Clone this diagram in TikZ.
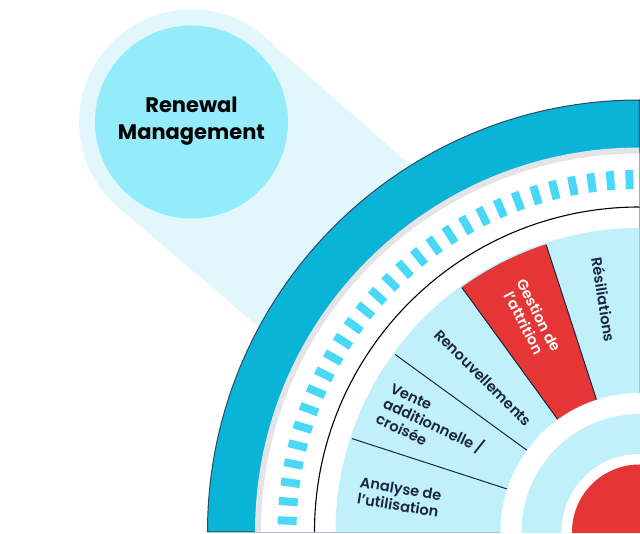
\documentclass[tikz,border=0pt]{standalone}
\usepackage{fontspec}
\setmainfont{Poppins}
\newfontfamily\mediumfont{Poppins SemiBold}
\definecolor{bandteal}{HTML}{0AB4D6}
\definecolor{beamblue}{HTML}{E2F7FC}
\definecolor{bubbleblue}{HTML}{94ECFB}
\definecolor{sectorblue}{HTML}{C0F1FA}
\definecolor{tickblue}{HTML}{4AD8F8}
\definecolor{alertred}{HTML}{E63535}
\definecolor{ringgrey}{HTML}{E4E4E8}
\definecolor{inkblue}{HTML}{1B2440}
\definecolor{edgeblue}{HTML}{2B4A66}
\begin{document}
\begin{tikzpicture}[x = 1pt, y = 1pt,
  disc/.style = {circle, minimum size = #1, inner sep = 0pt},
  sepline/.style = {draw = inkblue, line width = 1pt},
  tickmark/.style = {draw = tickblue, line width = 8pt},
  sectorlabel/.style = {text = inkblue, font = \mediumfont\fontsize{14.6}{17}\selectfont, align = left, inner sep = 0pt}]
\useasboundingbox (-639.5,-1) rectangle (0.5,532);
\clip (-639.5,-1) rectangle (0.5,532);

% bubble and beam
\coordinate (hub) at (0,0);
\coordinate (bubblecentre) at (-448,410);
\fill[beamblue] (-373,493) -- (-190,333) -- (-340,170) -- (-524,327) -- cycle;
\node[disc = 225pt, fill = beamblue] (halo) at (bubblecentre) {};
\node[disc = 193pt, fill = bubbleblue] (bubble) at (bubblecentre) {};
\node[text = black, font = \bfseries\fontsize{21}{27}\selectfont, align = center, inner sep = 0pt] (title) at (-448,411) {Renewal\\Management};

% outer bands
\filldraw[fill = bandteal, draw = edgeblue, line width = 1pt] (hub) -- (180:432) arc (180:90:432) -- cycle;
\fill[ringgrey] (hub) -- (180:384.5) arc (180:90:384.5) -- cycle;
\fill[white] (hub) -- (180:378.5) arc (180:90:378.5) -- cycle;
\foreach \n in {0,...,28}
  \draw[tickmark] (91.63+3.09*\n:343) -- (91.63+3.09*\n:362);
\draw[black, line width = 1.1pt] (180:325) arc (180:90:325);

% sectors
\fill[sectorblue] (hub) -- (180:304) arc (180:90:304) -- cycle;
\fill[alertred] (hub) -- (126:302.5) arc (126:108:302.5) -- cycle;
\foreach \a/\b in {162/302, 144/302, 126/302, 108/302}
  \draw[sepline] (\a:139) -- (\a:\b);

% hub rings
\fill[white] (hub) circle (139);
\fill[sectorblue] (hub) circle (118);
\fill[white] (hub) circle (78);
\fill[alertred] (hub) circle (67.5);

% labels
\node[sectorlabel, rotate = -81] (resil) at (98.8:235) {Résiliations};
\node[sectorlabel, rotate = -63, text = white, align = center] (attrition) at (-107.5,213) {Gestion de\\l’attrition};
\node[sectorlabel, rotate = -45] (renouv) at (-156,154) {Renouvellements};
\node[sectorlabel, rotate = -25] (vente) at (-206,106) {Vente\\additionnelle /\\croisée};
\node[sectorlabel, rotate = -9.5] (analyse) at (-240,35) {Analyse de\\l’utilisation};
\end{tikzpicture}
\end{document}
